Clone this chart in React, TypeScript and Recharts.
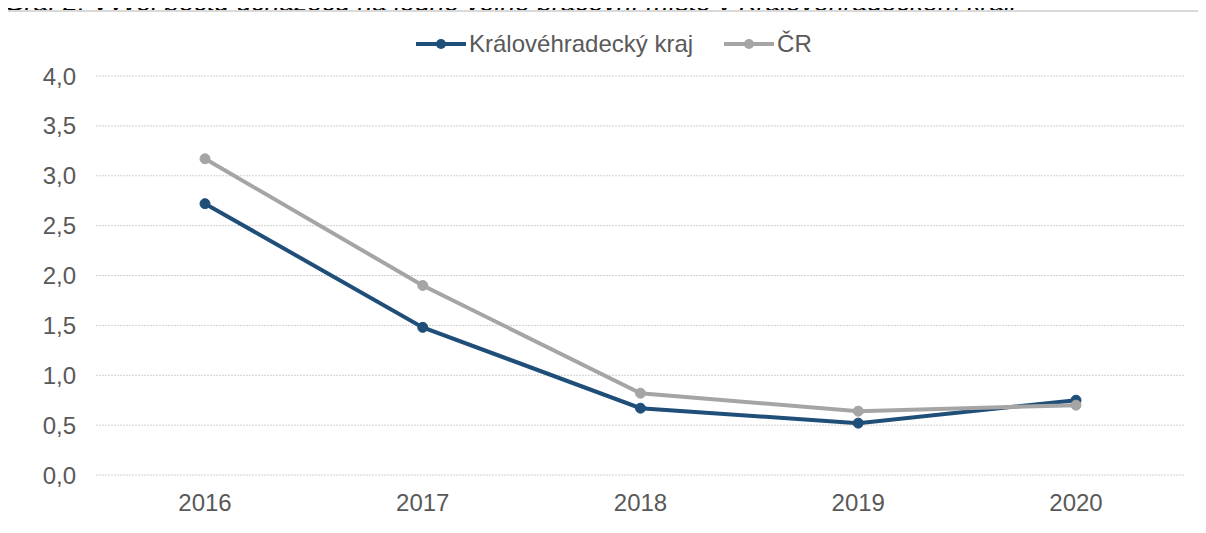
import { LineChart, Line, XAxis, YAxis, CartesianGrid, Legend } from "recharts";

const years = ["2016", "2017", "2018", "2019", "2020"];
const kralovehradecky = [2.72, 1.48, 0.67, 0.52, 0.75];
const cr = [3.17, 1.9, 0.82, 0.64, 0.7];
const yTicks = [0, 0.5, 1, 1.5, 2, 2.5, 3, 3.5, 4];

const title =
  "Graf 2: Vývoj počtu uchazečů na jedno volné pracovní místo v Královéhradeckém kraji";

const data = years.map((year, i) => ({
  year,
  khk: kralovehradecky[i],
  cr: cr[i],
}));

const FONT = '"Liberation Sans", Arial, sans-serif';
const TEXT = "#595959";
const BLUE = "#1F4E79";
const GREY = "#A5A5A5";

const fmt = (v: number) => v.toFixed(1).replace(".", ",");

function LegendContent(props: any) {
  const items = props.payload || [];
  return (
    <div style={{ display: "flex", alignItems: "center", fontSize: 24, lineHeight: "24px", color: TEXT }}>
      {items.map((it: any, i: number) => (
        <div key={i} style={{ display: "flex", alignItems: "center", marginRight: 31 }}>
          <svg width={50} height={24} style={{ marginRight: 3 }}>
            <line x1={0} y1={12} x2={50} y2={12} stroke={it.color} strokeWidth={4} />
            <circle cx={25} cy={12} r={5} fill={it.color} />
          </svg>
          <span>{it.value}</span>
        </div>
      ))}
    </div>
  );
}

export default function App() {
  return (
    <div
      style={{
        position: "relative",
        width: 1206,
        height: 533,
        margin: -8,
        overflow: "hidden",
        background: "#fff",
        fontFamily: FONT,
      }}
    >
      <div
        style={{
          position: "absolute",
          left: 4,
          top: -11,
          fontSize: 26.5,
          lineHeight: "26.5px",
          fontStyle: "italic",
          color: "#000",
          whiteSpace: "nowrap",
        }}
      >
        {title}
      </div>
      <div
        style={{
          position: "absolute",
          left: 5,
          top: 10,
          width: 1220,
          height: 540,
          background: "#fff",
          borderTop: "2px solid #D9D9D9",
          borderLeft: "2px solid #D9D9D9",
        }}
      />
      <div style={{ position: "absolute", left: 0, top: 0 }}>
        <LineChart
          width={1206}
          height={533}
          data={data}
          margin={{ top: 52, right: 21, bottom: 0, left: 0 }}
        >
          <CartesianGrid vertical={false} stroke="#D0D0D0" strokeDasharray="2 1" />
          <XAxis
            dataKey="year"
            height={58}
            axisLine={false}
            tickLine={false}
            tickMargin={13}
            padding={{ left: 109, right: 109 }}
            tick={{ fill: TEXT, fontSize: 24 }}
          />
          <YAxis
            width={96}
            domain={[0, 4]}
            ticks={yTicks}
            axisLine={false}
            tickLine={false}
            tickMargin={14}
            tickFormatter={fmt}
            tick={{ fill: TEXT, fontSize: 24 }}
          />
          <Legend
            verticalAlign="top"
            content={<LegendContent />}
            wrapperStyle={{ top: 32, left: 416, width: "auto" }}
          />
          <Line
            dataKey="khk"
            name="Královéhradecký kraj"
            stroke={BLUE}
            strokeWidth={4}
            dot={{ r: 5, fill: BLUE, stroke: BLUE, strokeWidth: 1 }}
            activeDot={false}
            isAnimationActive={false}
          />
          <Line
            dataKey="cr"
            name="ČR"
            stroke={GREY}
            strokeWidth={4}
            dot={{ r: 5, fill: GREY, stroke: GREY, strokeWidth: 1 }}
            activeDot={false}
            isAnimationActive={false}
          />
        </LineChart>
      </div>
    </div>
  );
}
